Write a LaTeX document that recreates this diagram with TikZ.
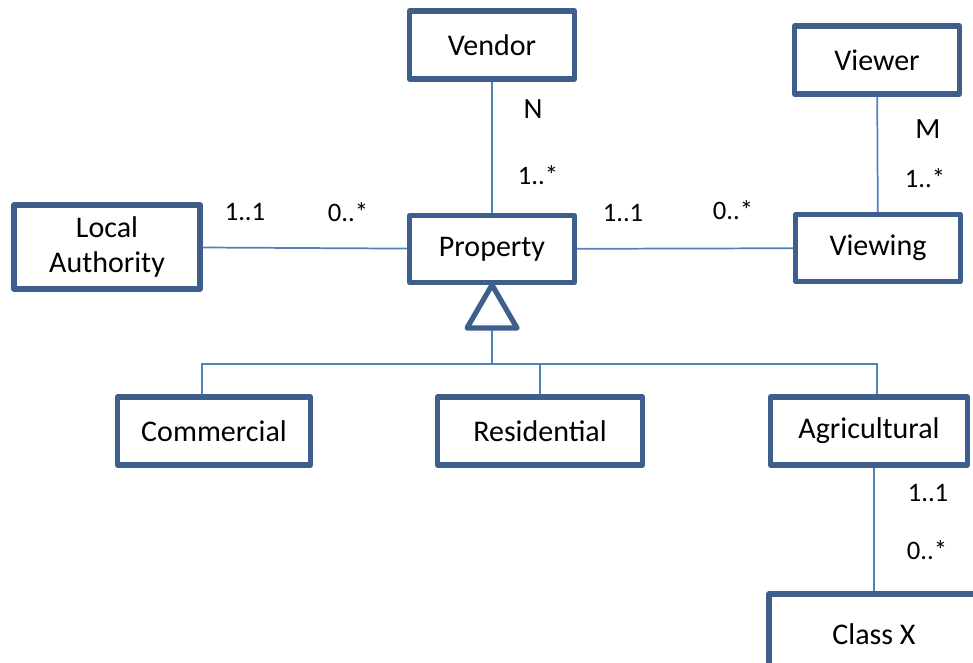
\documentclass[tikz,border=0pt]{standalone}
\usepackage{fontspec}
\setmainfont{Carlito}
\usepackage{tikz}
\usetikzlibrary{calc}
\definecolor{boxblue}{RGB}{62,94,140}
\definecolor{lineblue}{RGB}{79,129,189}

\begin{document}
\begin{tikzpicture}[x=0.75pt,y=-0.75pt,
  cls/.style={draw=boxblue, line width=3.9pt, line join=round, fill=white, inner sep=0pt, minimum height=51pt, align=center, font=\fontsize{22.5}{26}\selectfont},
  conn/.style={draw=lineblue, line width=1.3pt},
  mult/.style={inner sep=0pt, font=\fontsize{20}{23}\selectfont}]
  \useasboundingbox (0,0) rectangle (973,662);

  \node[cls, minimum width=123.75pt] (vendor) at (492,45){Vendor};
  \node[cls, minimum width=123.75pt] (viewer) at (877,60){Viewer};
  \node[cls, minimum width=123.75pt, minimum height=50pt] (property) at (492,249){Property};
  \node[cls, minimum width=123.75pt, minimum height=50pt] (viewing) at (878,248){Viewing};
  \node[cls, minimum width=139.5pt, minimum height=63pt] (locauth) at (107,247){Local\\Authority};
  \node[cls, minimum width=144.75pt] (comm) at (214,431){Commercial};
  \node[cls, minimum width=153.75pt] (resid) at (540,431){Residential};
  \node[cls, minimum width=147.75pt] (agri) at (869,431){Agricultural};
  \node[cls, minimum width=157.5pt, minimum height=60pt] (classx) at (874,634){Class X};

  \path[draw, conn] (vendor)--(property);
  \path[draw, conn] (viewer)--(viewing);
  \path[draw, conn] (locauth)--(property);
  \path[draw, conn] (property)--(viewing);
  \path[draw, conn] (agri.south -| classx.north)--(classx.north);

  \path[draw=boxblue, line width=3.9pt, line join=round] (property.south)--++(-25,43)--++(50,0)--cycle;
  \coordinate (gen) at ($(property.south)+(0,45)$);
  \coordinate (bus) at ($(gen)+(0,34)$);
  \path[draw, conn] (gen)--(bus);
  \path[draw, conn] ([xshift=-9pt]comm.north) |- (bus) -| ([xshift=6pt]agri.north);
  \path[draw, conn] (resid.north)--(resid.north |- bus);

  \node[mult, font=\fontsize{22}{26}\selectfont] (vn) at (533,109){N};
  \node[mult] (vm) at (538,175){1..*};
  \node[mult] (la1) at (245,212){1..1};
  \node[mult] (la2) at (348,212){0..*};
  \node[mult] (pv1) at (623,213){1..1};
  \node[mult] (pv2) at (733,210){0..*};
  \node[mult, font=\fontsize{22}{26}\selectfont] (wm) at (928,129){M};
  \node[mult] (wn) at (925,178){1..*};
  \node[mult] (ac1) at (928,493){1..1};
  \node[mult] (ac2) at (927,550){0..*};
\end{tikzpicture}
\end{document}
